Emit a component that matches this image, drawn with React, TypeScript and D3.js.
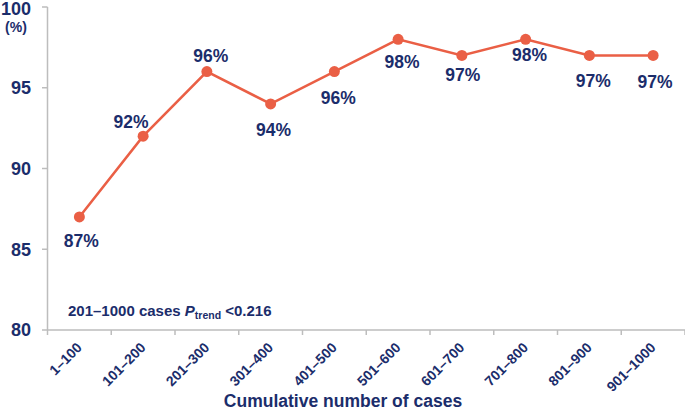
import React from "react";
import * as d3 from "d3";

const categories = ["1–100", "101–200", "201–300", "301–400", "401–500", "501–600", "601–700", "701–800", "801–900", "901–1000"];
const values = [87, 92, 96, 94, 96, 98, 97, 98, 97, 97];
const yTicks = [80, 85, 90, 95, 100];

const W = 685;
const H = 414;
const NAVY = "#1b2d6b";
const RED = "#ea5f45";
const AXIS = "#bdbdbd";
const FONT = "'Liberation Sans', Arial, sans-serif";

export default function App() {
  const x = d3.scaleBand<string>().domain(categories).range([47.5, 685]);
  const y = d3.scaleLinear().domain([80, 100]).range([330, 7]);
  const line = d3
    .line<number>()
    .x((_, i) => (x(categories[i]) as number) + x.bandwidth() / 2)
    .y((d) => y(d));
  const labelDy = [24, -14, -16, 26, 26, 23, 19, 16, 25, 26];
  const labelDx = [2, -12, 4, 3, 4, 4, 1, 4, 4, 2];

  return (
    <svg width={W} height={H} style={{ position: "absolute", left: 0, top: 0, fontFamily: FONT }}>
      <rect width={W} height={H} fill="#fff" />
      {/* y axis */}
      <line x1={47.5} x2={47.5} y1={y(100)} y2={y(80)} stroke={AXIS} strokeWidth={1.5} />
      {yTicks.map((t) => (
        <g key={t}>
          <line x1={42} x2={47.5} y1={y(t)} y2={y(t)} stroke={AXIS} strokeWidth={1.5} />
          <text
            x={31}
            y={y(t) + (t === 100 ? 2 : 0)}
            dy="0.35em"
            textAnchor="end"
            fontSize={18}
            fontWeight="bold"
            fill={NAVY}
          >
            {t}
          </text>
        </g>
      ))}
      <text x={16} y={27.5} dy="0.35em" textAnchor="middle" fontSize={14} fontWeight="bold" fill={NAVY}>
        (%)
      </text>
      {/* x axis */}
      <line x1={47.5} x2={685} y1={y(80)} y2={y(80)} stroke={AXIS} strokeWidth={1.5} />
      {[...categories.map((c) => x(c) as number), 685].map((px, i) => (
        <line key={i} x1={px} x2={px} y1={y(80)} y2={y(80) + 5} stroke={AXIS} strokeWidth={1.5} />
      ))}
      {categories.map((c) => {
        const cx = (x(c) as number) + x.bandwidth() / 2;
        return (
          <text
            key={c}
            transform={`translate(${cx},${y(80) + 15}) rotate(-45)`}
            textAnchor="end"
            dy="0.35em"
            fontSize={14}
            fontWeight="bold"
            fill={NAVY}
          >
            {c}
          </text>
        );
      })}
      <text x={343} y={407} textAnchor="middle" fontSize={17.5} fontWeight="bold" fill={NAVY}>
        Cumulative number of cases
      </text>
      <text x={68} y={316} fontSize={15} fontWeight="bold" fill={NAVY}>
        201–1000 cases <tspan fontStyle="italic">P</tspan>
        <tspan fontSize={10.5} dy={3}>trend</tspan>
        <tspan dy={-3}> &lt;0.216</tspan>
      </text>
      {/* line */}
      <path d={line(values) as string} fill="none" stroke={RED} strokeWidth={2.5} />
      {values.map((v, i) => {
        const cx = (x(categories[i]) as number) + x.bandwidth() / 2;
        return (
          <g key={i}>
            <circle cx={cx} cy={y(v)} r={5.5} fill={RED} />
            <text
              x={cx + labelDx[i]}
              y={y(v) + labelDy[i]}
              dy="0.35em"
              textAnchor="middle"
              fontSize={17.5}
              fontWeight="bold"
              fill={NAVY}
            >
              {v}%
            </text>
          </g>
        );
      })}
    </svg>
  );
}
